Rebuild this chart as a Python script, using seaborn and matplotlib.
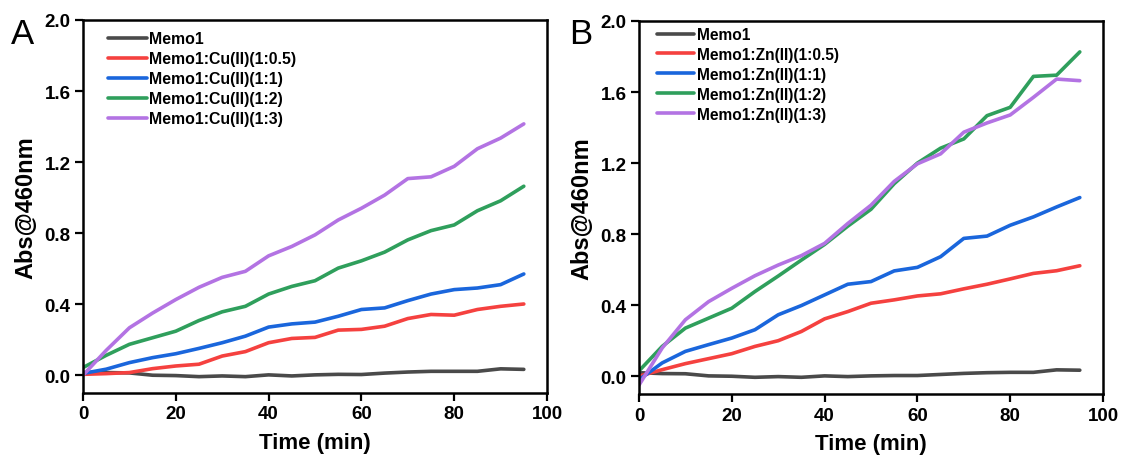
import numpy as np
import pandas as pd
import matplotlib
matplotlib.use("Agg")
import matplotlib.pyplot as plt
import seaborn as sns

time_min = [0, 5, 10, 15, 20, 25, 30, 35, 40, 45, 50, 55, 60, 65, 70, 75, 80, 85, 90, 95]

# Panel A: Memo1 with Cu(II)
cu_memo1 = [0.015, 0.015, 0.013, 0.000, -0.002, -0.008, -0.004, -0.008, 0.002, -0.004,
            0.002, 0.005, 0.004, 0.012, 0.018, 0.022, 0.022, 0.022, 0.036, 0.033]
cu_05 = [0.005, 0.009, 0.015, 0.037, 0.052, 0.062, 0.108, 0.133, 0.183, 0.207,
         0.213, 0.254, 0.258, 0.276, 0.319, 0.342, 0.338, 0.370, 0.388, 0.401]
cu_1 = [0.010, 0.034, 0.071, 0.099, 0.121, 0.151, 0.183, 0.220, 0.271, 0.289,
        0.299, 0.332, 0.370, 0.379, 0.420, 0.457, 0.482, 0.491, 0.510, 0.570]
cu_2 = [0.043, 0.112, 0.174, 0.211, 0.248, 0.308, 0.357, 0.388, 0.457, 0.500,
        0.532, 0.603, 0.644, 0.693, 0.762, 0.814, 0.846, 0.926, 0.982, 1.064]
cu_3 = [0.000, 0.140, 0.267, 0.350, 0.426, 0.495, 0.551, 0.585, 0.672, 0.725,
        0.790, 0.874, 0.940, 1.014, 1.107, 1.117, 1.176, 1.275, 1.335, 1.415]

# Panel B: Memo1 with Zn(II)
zn_memo1 = [0.020, 0.015, 0.014, 0.002, 0.000, -0.006, -0.002, -0.006, 0.002, -0.002,
            0.002, 0.004, 0.004, 0.010, 0.016, 0.020, 0.022, 0.022, 0.036, 0.034]
zn_05 = [0.000, 0.037, 0.071, 0.099, 0.127, 0.168, 0.200, 0.252, 0.323, 0.364,
         0.411, 0.430, 0.452, 0.464, 0.492, 0.518, 0.548, 0.579, 0.594, 0.622]
zn_1 = [-0.020, 0.075, 0.140, 0.178, 0.215, 0.262, 0.346, 0.398, 0.458, 0.518,
        0.533, 0.593, 0.613, 0.673, 0.776, 0.789, 0.850, 0.897, 0.953, 1.006]
zn_2 = [0.030, 0.168, 0.271, 0.327, 0.383, 0.477, 0.564, 0.654, 0.742, 0.845,
        0.940, 1.084, 1.200, 1.284, 1.336, 1.467, 1.514, 1.688, 1.695, 1.826]
zn_3 = [-0.050, 0.159, 0.318, 0.420, 0.495, 0.566, 0.626, 0.679, 0.748, 0.860,
        0.963, 1.097, 1.196, 1.252, 1.374, 1.426, 1.471, 1.570, 1.673, 1.664]

cu_labels = ["Memo1", "Memo1:Cu(II)(1:0.5)", "Memo1:Cu(II)(1:1)",
             "Memo1:Cu(II)(1:2)", "Memo1:Cu(II)(1:3)"]
zn_labels = ["Memo1", "Memo1:Zn(II)(1:0.5)", "Memo1:Zn(II)(1:1)",
             "Memo1:Zn(II)(1:2)", "Memo1:Zn(II)(1:3)"]
line_colors = ["#4a4a4a", "#f5413f", "#1a66dc", "#2f9f5c", "#b373e3"]

x_ticks = [0, 20, 40, 60, 80, 100]
y_ticks = [0.0, 0.4, 0.8, 1.2, 1.6, 2.0]

sns.set_style("ticks")
plt.rcParams["font.family"] = ["Liberation Sans", "DejaVu Sans"]
plt.rcParams["font.weight"] = "bold"
for key in ("text.color", "axes.labelcolor", "xtick.color", "ytick.color"):
    plt.rcParams[key] = "black"


def long_frame(labels, series):
    rows = []
    for lab, vals in zip(labels, series):
        for t, v in zip(time_min, vals):
            rows.append({"Time": t, "Abs": v, "Sample": lab})
    return pd.DataFrame(rows)


fig = plt.figure(figsize=(11.23, 4.6), dpi=100)
ax_a = fig.add_axes([0.0739, 0.1435, 0.4132, 0.8109])
ax_b = fig.add_axes([0.5690, 0.1413, 0.4132, 0.8109])

# (axes, labels, series, panel tag, tag x, legend anchor, legend font size,
#  handle length)
panels = [
    (ax_a, cu_labels, [cu_memo1, cu_05, cu_1, cu_2, cu_3], "A", 0.010,
     (0.054, 0.970), 11.4, 2.45),
    (ax_b, zn_labels, [zn_memo1, zn_05, zn_1, zn_2, zn_3], "B", 0.507,
     (0.039, 0.984), 11.2, 2.4),
]

for ax, labels, series, tag, tag_x, anchor, leg_fs, hlen in panels:
    df = long_frame(labels, series)
    sns.lineplot(data=df, x="Time", y="Abs", hue="Sample", hue_order=labels,
                 palette=dict(zip(labels, line_colors)), linewidth=2.6, ax=ax)
    ax.set_xlim(0, 100)
    ax.set_ylim(-0.1, 2.0)
    ax.set_xticks(x_ticks)
    ax.set_xticklabels([str(v) for v in x_ticks])
    ax.set_yticks(y_ticks)
    ax.set_yticklabels([f"{v:.1f}" for v in y_ticks])
    ax.tick_params(direction="out", length=5.5, width=1.6, labelsize=13.5, pad=3.5,
                   colors="black")
    for lab in ax.get_xticklabels() + ax.get_yticklabels():
        lab.set_fontweight("bold")
    for sp in ax.spines.values():
        sp.set_linewidth(1.8)
        sp.set_color("black")
    ax.set_xlabel("Time (min)", fontsize=16, fontweight="bold", labelpad=6.5)
    ax.set_ylabel("Abs@460nm", fontsize=17, fontweight="bold", labelpad=5)
    leg = ax.legend(loc="upper left", bbox_to_anchor=anchor, frameon=False,
                    fontsize=leg_fs, handlelength=hlen, handletextpad=0.15,
                    labelspacing=0.32, borderaxespad=0.0, borderpad=0.0)
    for txt in leg.get_texts():
        txt.set_fontweight("bold")
    for h in leg.get_lines():
        h.set_linewidth(2.6)
    fig.text(tag_x, 0.96, tag, fontsize=25, fontweight="normal", va="top", ha="left")

fig.savefig("out.png", dpi=100)
